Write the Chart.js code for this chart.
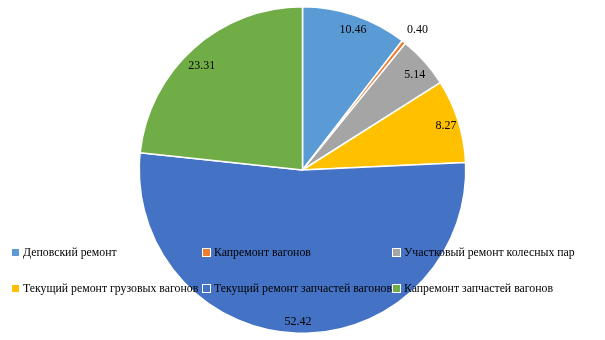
<!DOCTYPE html>
<html>
<head>
<meta charset="utf-8">
<script src="https://cdn.jsdelivr.net/npm/chart.js@4"></script>
<style>
  html, body { margin: 0; padding: 0; background: #fff; }
  #wrap { width: 605px; height: 340px; position: relative; }
</style>
</head>
<body>
<div id="wrap"><canvas id="c" width="605" height="340"></canvas></div>
<script>
// Categories of repair work and their shares, %
const categories = [
  'Деповский ремонт',
  'Капремонт вагонов',
  'Участковый ремонт колесных пар',
  'Текущий ремонт грузовых вагонов',
  'Текущий ремонт запчастей вагонов',
  'Капремонт запчастей вагонов'
];
const shares = [10.46, 0.40, 5.14, 8.27, 52.42, 23.31];
const sliceColors = ['#5B9BD5', '#ED7D31', '#A5A5A5', '#FFC000', '#4472C4', '#70AD47'];

// Where each value label sits: fraction of radius and angular nudge (degrees)
const labelRadius = [0.91, 1.11, 0.90, 0.92, 0.93, 0.89];
const labelNudge  = [1, 1, 1.4, 0.5, 0, -2];

const serif = '"Liberation Serif", "Times New Roman", serif';

const valueLabels = {
  id: 'valueLabels',
  afterDatasetsDraw(chart) {
    const ctx = chart.ctx;
    const meta = chart.getDatasetMeta(0);
    ctx.save();
    ctx.font = '12px ' + serif;
    ctx.fillStyle = '#000';
    ctx.textAlign = 'center';
    ctx.textBaseline = 'middle';
    meta.data.forEach((arc, i) => {
      const mid = (arc.startAngle + arc.endAngle) / 2 + labelNudge[i] * Math.PI / 180;
      const r = arc.outerRadius * labelRadius[i];
      ctx.fillText(shares[i].toFixed(2), arc.x + Math.cos(mid) * r, arc.y + Math.sin(mid) * r);
    });
    ctx.restore();
  }
};

// Legend laid out in a 3-column grid over the plot
const gridLegend = {
  id: 'gridLegend',
  afterDraw(chart) {
    const ctx = chart.ctx;
    const colX = [12, 203, 393];
    const rowY = [253, 289];
    ctx.save();
    ctx.font = '11.8px ' + serif;
    ctx.textBaseline = 'middle';
    ctx.textAlign = 'left';
    categories.forEach((name, i) => {
      const x = colX[i % 3];
      const y = rowY[Math.floor(i / 3)];
      ctx.fillStyle = '#fff';
      ctx.fillRect(x - 1, y - 5, 9, 9);
      ctx.fillStyle = sliceColors[i];
      ctx.fillRect(x, y - 4, 7, 7);
      ctx.fillStyle = '#000';
      ctx.fillText(name, x + 11, y);
    });
    ctx.restore();
  }
};

new Chart(document.getElementById('c'), {
  type: 'pie',
  data: {
    labels: categories,
    datasets: [{
      data: shares,
      backgroundColor: sliceColors,
      borderColor: '#fff',
      borderWidth: 1.5
    }]
  },
  options: {
    responsive: false,
    animation: false,
    layout: { padding: { top: 6, bottom: 6 } },
    plugins: {
      legend: { display: false },
      tooltip: { enabled: false }
    }
  },
  plugins: [valueLabels, gridLegend]
});
</script>
</body>
</html>
